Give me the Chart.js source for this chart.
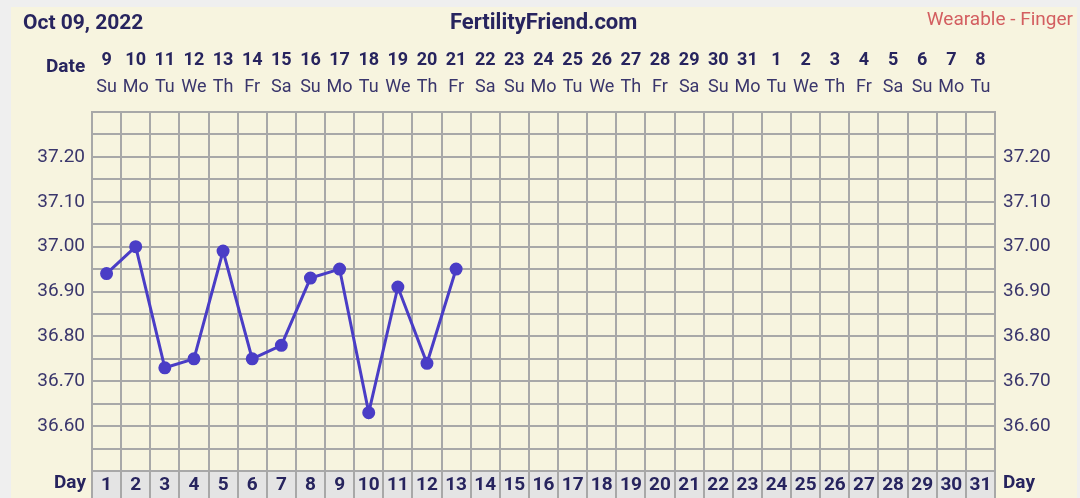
<!DOCTYPE html>
<html>
<head>
<meta charset="utf-8">
<script src="https://cdn.jsdelivr.net/npm/chart.js@4.4.1/dist/chart.umd.min.js"></script>
<style>
  html, body { margin: 0; padding: 0; }
  body { width: 1080px; height: 498px; background: #efefef; overflow: hidden; font-family: Roboto, sans-serif; }
  #panel { position: absolute; left: 11px; top: 7px; width: 1066px; height: 491px; background: #f7f4df; }
  #chart-box { position: absolute; left: 0; top: 0; width: 1066px; height: 491px; }
  .txt { position: absolute; white-space: nowrap; color: #27245e; line-height: 1; }
  .bold { font-weight: bold; }
</style>
</head>
<body>
<div id="panel">
  <div id="chart-box"><canvas id="bbt-chart"></canvas></div>
  <div class="txt bold" style="left:12px;top:5px;font-size:21px;">Oct 09, 2022</div>
  <div class="txt bold" style="left:439px;top:4px;font-size:22px;">FertilityFriend.com</div>
  <div class="txt" style="right:4px;top:2px;font-size:19px;color:#d35e60;">Wearable - Finger</div>
  <div class="txt bold" style="left:35px;top:49px;font-size:19px;">Date</div>
  <div class="txt bold" style="left:43px;top:465px;font-size:19px;">Day</div>
  <div class="txt bold" style="left:992px;top:465px;font-size:19px;">Day</div>
</div>
<script>
const dayNumbers = ['1', '2', '3', '4', '5', '6', '7', '8', '9', '10', '11', '12', '13', '14', '15', '16',
    '17', '18', '19', '20', '21', '22', '23', '24', '25', '26', '27', '28', '29', '30', '31'];
const dateNumbers = ['9', '10', '11', '12', '13', '14', '15', '16', '17', '18', '19', '20', '21', '22', '23',
    '24', '25', '26', '27', '28', '29', '30', '31', '1', '2', '3', '4', '5', '6', '7', '8'];
const weekDays = ['Su', 'Mo', 'Tu', 'We', 'Th', 'Fr', 'Sa', 'Su', 'Mo', 'Tu', 'We', 'Th', 'Fr', 'Sa', 'Su',
    'Mo', 'Tu', 'We', 'Th', 'Fr', 'Sa', 'Su', 'Mo', 'Tu', 'We', 'Th', 'Fr', 'Sa', 'Su', 'Mo', 'Tu'];
const temps = [36.94, 37.00, 36.73, 36.75, 36.99, 36.75, 36.78, 36.93, 36.95, 36.63, 36.91, 36.74, 36.95];

const navy = '#27245e';
const labelNavy = '#3a366c';
const gridGray = '#a8a8a8';

// grey band behind the "Day" row
const dayBand = {
    id: 'dayBand',
    beforeDraw(chart) {
        const {ctx, chartArea} = chart;
        ctx.save();
        ctx.fillStyle = '#e4e4e4';
        ctx.fillRect(chartArea.left, chartArea.bottom, chartArea.right - chartArea.left, chart.height - chartArea.bottom);
        ctx.restore();
    }
};

function tempLabel(value) {
    const v = Math.round(value * 100);
    if (v % 10 !== 0 || v === 3650 || v === 3730) return '';
    return value.toFixed(2);
}

const chartField = document.getElementById('bbt-chart');
const bbtChart = new Chart(chartField, {
    type: 'line',
    data: {
        labels: dayNumbers,
        datasets: [{
            data: temps,
            borderColor: '#4a3dc6',
            backgroundColor: '#4a3dc6',
            borderWidth: 3,
            pointRadius: 5.5,
            pointBorderWidth: 2,
            tension: 0,
            xAxisID: 'x',
            yAxisID: 'y'
        }]
    },
    options: {
        responsive: true,
        maintainAspectRatio: false,
        animation: false,
        layout: {padding: {top: 41.2, left: 0, right: 0, bottom: 0}},
        plugins: {
            legend: {display: false},
            tooltip: {enabled: false}
        },
        scales: {
            x: {
                type: 'category',
                position: 'bottom',
                offset: true,
                afterFit: s => { s.height = 27; },
                grid: {offset: true, color: gridGray, lineWidth: 2, tickLength: 27, tickColor: gridGray},
                border: {color: gridGray, width: 2},
                ticks: {autoSkip: false, maxRotation: 0, padding: -24, color: navy,
                    font: {family: 'Roboto', size: 19, weight: 'bold'}}
            },
            xDay: {
                type: 'category',
                labels: weekDays,
                position: 'top',
                offset: true,
                weight: 0,
                // hidden tick marks only add room under the weekday row
                grid: {display: false, drawTicks: true, tickLength: 10},
                border: {display: false},
                ticks: {autoSkip: false, maxRotation: 0, padding: 3.7, color: labelNavy,
                    font: {family: 'Roboto', size: 18, lineHeight: 1.2}}
            },
            xDate: {
                type: 'category',
                labels: dateNumbers,
                position: 'top',
                offset: true,
                weight: 1,
                grid: {display: false, drawTicks: false},
                border: {display: false},
                ticks: {autoSkip: false, maxRotation: 0, padding: 1.6, color: navy,
                    font: {family: 'Roboto', size: 18, weight: 'bold', lineHeight: 1.2}}
            },
            y: {
                position: 'left',
                min: 36.5,
                max: 37.3,
                afterFit: s => { s.width = 81; },
                grid: {color: gridGray, lineWidth: 2, drawTicks: false},
                border: {color: gridGray, width: 2},
                ticks: {stepSize: 0.05, autoSkip: false, padding: 7, color: labelNavy,
                    font: {family: 'Roboto', size: 19}, callback: tempLabel}
            },
            y2: {
                position: 'right',
                min: 36.5,
                max: 37.3,
                afterFit: s => { s.width = 82; },
                grid: {drawOnChartArea: false, drawTicks: false},
                border: {color: gridGray, width: 2},
                ticks: {stepSize: 0.05, autoSkip: false, padding: 8, color: labelNavy,
                    font: {family: 'Roboto', size: 19}, callback: tempLabel}
            }
        }
    },
    plugins: [dayBand]
});
</script>
</body>
</html>
